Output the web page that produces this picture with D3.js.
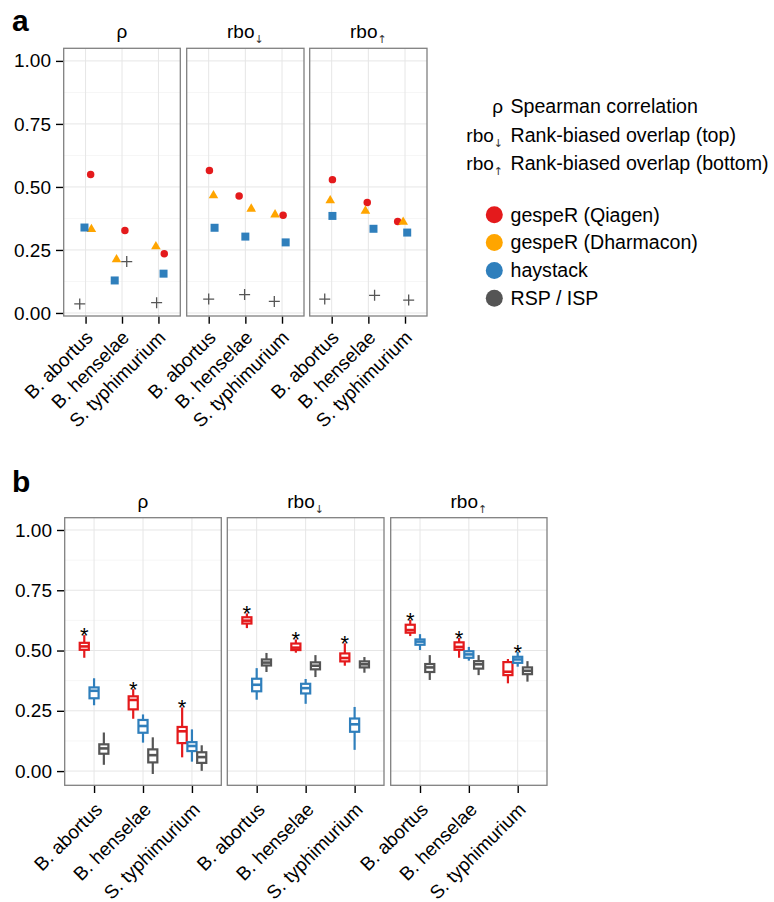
<!DOCTYPE html>
<meta charset="utf-8">
<head>
<style>
body { margin: 0; background: #fff; }
text { font-family: "Liberation Sans", Arial, Helvetica, sans-serif; }
</style>
</head>
<script src="https://d3js.org/d3.v7.min.js"></script>
<div id="chart"></div>
<script>

// categories and facets
var categories = ["B. abortus", "B. henselae", "S. typhimurium"];
var metrics = ["rho", "rboTop", "rboBottom"];
var legendSymbols = ["rho", "rboTop", "rboBottom"];
var legendDescriptions = ["Spearman correlation", "Rank-biased overlap (top)", "Rank-biased overlap (bottom)"];
var methods = ["gespeR (Qiagen)", "gespeR (Dharmacon)", "haystack", "RSP / ISP"];
var yTicks = [0, 0.25, 0.5, 0.75, 1];
var yMinor = [0.125, 0.375, 0.625, 0.875];

// panel a: one value per [metric][category]
var qiagenA    = [[0.549, 0.327, 0.235], [0.565, 0.464, 0.388], [0.529, 0.438, 0.363]];
var dharmaconA = [[0.332, 0.212, 0.264], [0.466, 0.413, 0.390], [0.446, 0.405, 0.361]];
var haystackA  = [[0.339, 0.129, 0.156], [0.338, 0.303, 0.280], [0.385, 0.334, 0.319]];
var rspA       = [[0.036, 0.204, 0.041], [0.055, 0.073, 0.046], [0.055, 0.070, 0.051]];
// horizontal jitter of panel a points, in category steps
var qiagenJit    = [[0.14, 0.08, 0.16], [0.02, -0.17, 0.03], [0.02, -0.03, -0.20]];
var dharmaconJit = [[0.16, -0.15, -0.07], [0.13, 0.16, -0.19], [-0.04, -0.08, -0.05]];
var haystackJit  = [[-0.03, -0.20, 0.14], [0.16, 0.00, 0.10], [0.02, 0.14, 0.06]];
var rspJit       = [[-0.16, 0.13, -0.05], [0.00, -0.02, -0.21], [-0.19, 0.17, 0.10]];

// panel b: [lower whisker, q1, median, q3, upper whisker] per [metric][category]
var qiagenB = [
  [[0.470, 0.503, 0.517, 0.532, 0.564], [0.217, 0.256, 0.295, 0.310, 0.340], [0.057, 0.116, 0.165, 0.183, 0.264]],
  [[0.593, 0.612, 0.624, 0.638, 0.654], [0.491, 0.502, 0.512, 0.529, 0.546], [0.437, 0.455, 0.469, 0.488, 0.530]],
  [[0.560, 0.574, 0.585, 0.607, 0.627], [0.470, 0.503, 0.515, 0.534, 0.552], [0.364, 0.398, 0.412, 0.452, 0.465]]
];
var haystackB = [
  [[0.273, 0.302, 0.333, 0.347, 0.385], [0.118, 0.159, 0.187, 0.212, 0.235], [0.039, 0.083, 0.104, 0.120, 0.173]],
  [[0.296, 0.331, 0.358, 0.383, 0.427], [0.279, 0.322, 0.344, 0.362, 0.382], [0.088, 0.163, 0.194, 0.218, 0.266]],
  [[0.502, 0.524, 0.537, 0.546, 0.568], [0.458, 0.470, 0.484, 0.497, 0.515], [0.433, 0.449, 0.463, 0.474, 0.494]]
];
var rspB = [
  [[0.026, 0.072, 0.094, 0.111, 0.160], [-0.012, 0.036, 0.066, 0.090, 0.140], [0.001, 0.034, 0.058, 0.078, 0.107]],
  [[0.411, 0.438, 0.450, 0.463, 0.490], [0.390, 0.422, 0.437, 0.451, 0.481], [0.408, 0.430, 0.443, 0.455, 0.473]],
  [[0.378, 0.411, 0.430, 0.444, 0.481], [0.398, 0.425, 0.443, 0.456, 0.481], [0.371, 0.402, 0.416, 0.430, 0.456]]
];
// which box gets the significance star, per [metric][category]
var starMethod = [
  ["gespeR (Qiagen)", "gespeR (Qiagen)", "gespeR (Qiagen)"],
  ["gespeR (Qiagen)", "gespeR (Qiagen)", "gespeR (Qiagen)"],
  ["gespeR (Qiagen)", "gespeR (Qiagen)", "haystack"]
];

var colors = {
  "gespeR (Qiagen)": "#e41a1c",
  "gespeR (Dharmacon)": "#ffa500",
  "haystack": "#2f7fbc",
  "RSP / ISP": "#555555"
};

var fontSize = 19;

var svg = d3.select("#chart").append("svg")
  .attr("width", 774)
  .attr("height", 902);

function stripLabel(g, metric, x, y, size) {
  var t = g.append("text")
    .attr("x", x).attr("y", y)
    .attr("font-size", size);
  if (metric === "rho") {
    t.text("\u03c1");
  } else {
    t.append("tspan").text("rbo");
    // small arrow as a subscript
    t.append("tspan")
      .attr("font-family", "DejaVu Sans")
      .attr("font-size", 11).attr("dy", 5).attr("fill", "#333")
      .text(metric === "rboTop" ? "\u2193" : "\u2191");
  }
  return t;
}

// draw the frame of one facet panel: grid, border, axes
function facetFrame(g, x, y, left, right, showY) {
  var top = y.range()[1], bottom = y.range()[0];
  g.selectAll(".minor").data(yMinor).enter().append("line")
    .attr("x1", left).attr("x2", right)
    .attr("y1", function(d) { return y(d); }).attr("y2", function(d) { return y(d); })
    .attr("stroke", "#f6f6f6").attr("stroke-width", 1);
  g.selectAll(".major").data(yTicks).enter().append("line")
    .attr("x1", left).attr("x2", right)
    .attr("y1", function(d) { return y(d); }).attr("y2", function(d) { return y(d); })
    .attr("stroke", "#e6e6e6").attr("stroke-width", 1);
  g.selectAll(".vgrid").data(categories).enter().append("line")
    .attr("x1", function(d) { return x(d); }).attr("x2", function(d) { return x(d); })
    .attr("y1", top).attr("y2", bottom)
    .attr("stroke", "#e6e6e6").attr("stroke-width", 1);
  g.append("rect")
    .attr("x", left).attr("y", top)
    .attr("width", right - left).attr("height", bottom - top)
    .attr("fill", "none").attr("stroke", "#808080").attr("stroke-width", 1.3);

  var xa = g.append("g").attr("transform", "translate(0," + (bottom + 0.7) + ")")
    .call(d3.axisBottom(x).tickSize(7).tickFormat(""));
  xa.select(".domain").remove();
  xa.selectAll("line").attr("stroke", "#000").attr("stroke-width", 1.4);

  if (showY) {
    var ya = g.append("g").attr("transform", "translate(" + (left - 0.7) + ",0)")
      .call(d3.axisLeft(y).tickValues(yTicks).tickFormat(d3.format(".2f")).tickSize(7).tickPadding(5));
    ya.select(".domain").remove();
    ya.selectAll("line").attr("stroke", "#000").attr("stroke-width", 1.4);
    ya.selectAll("text").attr("font-size", fontSize).attr("fill", "#000")
      .attr("font-family", "Liberation Sans, Arial, sans-serif");
  }
}

function categoryLabels(g, x, bottom, dx, dy) {
  g.selectAll(".xlab").data(categories).enter().append("text")
    .attr("transform", function(d) { return "translate(" + (x(d) + dx) + "," + (bottom + dy) + ") rotate(-45)"; })
    .attr("text-anchor", "end")
    .attr("font-size", fontSize)
    .text(function(d) { return d; });
}

// ---------- panel a ----------
var aFacets = [[63.7, 180.3], [186.7, 304], [309.7, 427]];
var yA = d3.scaleLinear().domain([-0.012, 1.05]).range([316, 48.3]);
var gA = svg.append("g");

gA.append("text").attr("x", 12).attr("y", 31).attr("font-size", 30)
  .attr("font-weight", "bold").text("a");

var seriesA = [
  {name: "gespeR (Qiagen)", values: qiagenA, jitter: qiagenJit, shape: d3.symbolCircle, size: 44},
  {name: "gespeR (Dharmacon)", values: dharmaconA, jitter: dharmaconJit, shape: d3.symbolTriangle, size: 40},
  {name: "haystack", values: haystackA, jitter: haystackJit, shape: d3.symbolSquare, size: 64},
  {name: "RSP / ISP", values: rspA, jitter: rspJit, shape: null}
];

metrics.forEach(function(m, mi) {
  var left = aFacets[mi][0], right = aFacets[mi][1];
  var x = d3.scalePoint().domain(categories).range([left, right]).padding(0.6);
  var g = gA.append("g");
  facetFrame(g, x, yA, left, right, mi === 0);
  categoryLabels(g, x, 316, 8.3, 22.8);
  stripLabel(g, m, (left + right) / 2, 38, fontSize).attr("text-anchor", "middle");

  seriesA.forEach(function(s) {
    var pts = categories.map(function(c, ci) {
      return {cx: x(c) + s.jitter[mi][ci] * x.step(), cy: yA(s.values[mi][ci])};
    });
    if (s.shape) {
      g.selectAll(null).data(pts).enter().append("path")
        .attr("d", d3.symbol().type(s.shape).size(s.size))
        .attr("transform", function(d) { return "translate(" + d.cx + "," + d.cy + ")"; })
        .attr("fill", colors[s.name]);
    } else {
      g.selectAll(null).data(pts).enter().append("path")
        .attr("d", function(d) {
          return "M" + (d.cx - 5.5) + "," + d.cy + "H" + (d.cx + 5.5) +
                 "M" + d.cx + "," + (d.cy - 5.5) + "V" + (d.cy + 5.5);
        })
        .attr("stroke", colors[s.name]).attr("stroke-width", 1.3).attr("fill", "none");
    }
  });
});

// legend
var leg = svg.append("g");
legendSymbols.forEach(function(m, i) {
  var yy = 113.3 + i * 28.3;
  stripLabel(leg, m, 503, yy, fontSize).attr("text-anchor", "end");
  leg.append("text").attr("x", 510.5).attr("y", yy).attr("font-size", 19.6)
    .text(legendDescriptions[i]);
});
methods.forEach(function(name, i) {
  var yy = 214.8 + i * 27.8;
  leg.append("circle").attr("cx", 494.3).attr("cy", yy).attr("r", 8.5)
    .attr("fill", colors[name]);
  leg.append("text").attr("x", 510.5).attr("y", yy + 6.8).attr("font-size", 19.6)
    .text(name);
});

// ---------- panel b ----------
var bFacets = [[64.7, 221.3], [227.3, 384], [390.7, 547]];
var yB = d3.scaleLinear().domain([-0.059, 1.051]).range([785.3, 517.7]);
var gB = svg.append("g");

gB.append("text").attr("x", 12).attr("y", 492).attr("font-size", 30)
  .attr("font-weight", "bold").text("b");

var seriesB = [
  {name: "gespeR (Qiagen)", values: qiagenB},
  {name: "haystack", values: haystackB},
  {name: "RSP / ISP", values: rspB}
];

metrics.forEach(function(m, mi) {
  var left = bFacets[mi][0], right = bFacets[mi][1];
  var x = d3.scalePoint().domain(categories).range([left, right]).padding(0.6);
  var dodge = d3.scaleBand().domain(seriesB.map(function(s) { return s.name; }))
    .range([-0.3 * x.step(), 0.3 * x.step()]);
  var bw = dodge.bandwidth() * 0.93;
  var g = gB.append("g");
  facetFrame(g, x, yB, left, right, mi === 0);
  categoryLabels(g, x, 785.3, 9.3, 25.5);
  stripLabel(g, m, (left + right) / 2, 508, fontSize).attr("text-anchor", "middle");

  var boxes = [];
  seriesB.forEach(function(s) {
    categories.forEach(function(c, ci) {
      var v = s.values[mi][ci];
      boxes.push({name: s.name, cx: x(c) + dodge(s.name) + dodge.bandwidth() / 2,
        lo: v[0], q1: v[1], med: v[2], q3: v[3], hi: v[4],
        star: starMethod[mi][ci] === s.name});
    });
  });

  var bg = g.selectAll(null).data(boxes).enter().append("g");
  bg.append("line")
    .attr("x1", function(d) { return d.cx; }).attr("x2", function(d) { return d.cx; })
    .attr("y1", function(d) { return yB(d.hi); }).attr("y2", function(d) { return yB(d.lo); })
    .attr("stroke", function(d) { return colors[d.name]; }).attr("stroke-width", 2.2);
  bg.append("rect")
    .attr("x", function(d) { return d.cx - bw / 2; })
    .attr("y", function(d) { return yB(d.q3); })
    .attr("width", bw)
    .attr("height", function(d) { return yB(d.q1) - yB(d.q3); })
    .attr("fill", "#fff")
    .attr("stroke", function(d) { return colors[d.name]; }).attr("stroke-width", 2.2);
  bg.append("line")
    .attr("x1", function(d) { return d.cx - bw / 2; }).attr("x2", function(d) { return d.cx + bw / 2; })
    .attr("y1", function(d) { return yB(d.med); }).attr("y2", function(d) { return yB(d.med); })
    .attr("stroke", function(d) { return colors[d.name]; }).attr("stroke-width", 2.6);
  bg.filter(function(d) { return d.star; }).append("text")
    .attr("x", function(d) { return d.cx; })
    .attr("y", function(d) { return yB(d.hi) + 8; })
    .attr("text-anchor", "middle").attr("font-size", 22)
    .text("*");
});

</script>
